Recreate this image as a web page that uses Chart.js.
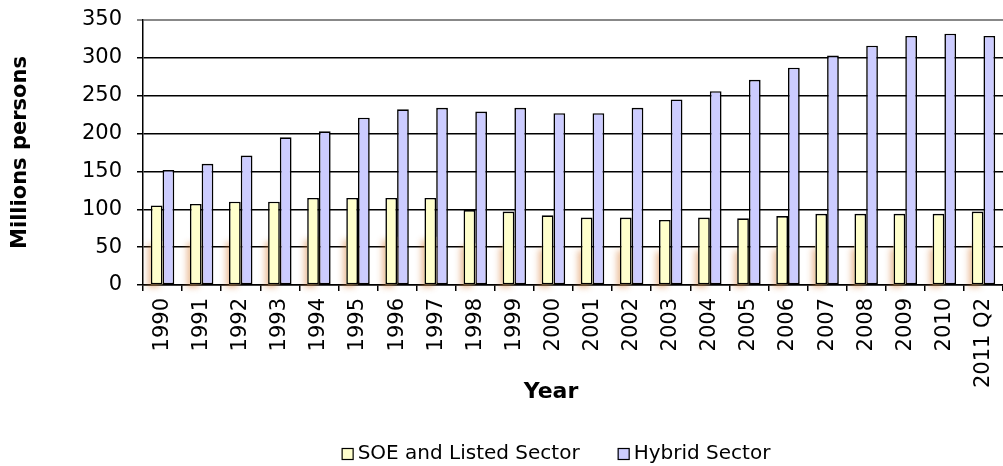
<!DOCTYPE html>
<html>
<head>
<meta charset="utf-8">
<script src="https://cdn.jsdelivr.net/npm/chart.js@4/dist/chart.umd.min.js"></script>
<style>
  html, body { margin: 0; padding: 0; background: #fff; }
  #wrap { width: 1003px; height: 466px; position: relative; }
</style>
</head>
<body>
<div id="wrap"><canvas id="my-chart"></canvas></div>
<script>
const years = ['1990','1991','1992','1993','1994','1995','1996','1997','1998','1999','2000',
  '2001','2002','2003','2004','2005','2006','2007','2008','2009','2010','2011 Q2'];
const soeListed = [105,107,110,110,115,115,115,115,99,97,92,89,89,86,89,88,91,94,94,94,94,97];
const hybrid = [152,160,171,195,203,221,232,234,229,234,227,227,234,245,256,271,287,303,316,329,332,329];
const yTicks = [0,50,100,150,200,250,300,350];

const font = 'DejaVu Sans';

// faint orange shadow at the foot of the yellow bars, like the original
const barShadow = {
  id: 'barShadow',
  beforeDatasetDraw(chart, args) {
    if (args.index !== 0) return;
    const c = chart.ctx;
    c.save();
    c.shadowColor = 'rgba(210,110,30,0.45)';
    c.shadowBlur = 6;
    c.shadowOffsetX = -3;
    c.shadowOffsetY = 3;
    c.fillStyle = '#FFFFCC';
    args.meta.data.forEach(bar => {
      const p = bar.getProps(['x', 'y', 'base', 'width'], true);
      const h = p.base - p.y;
      c.fillRect(p.x - p.width / 2, p.y + h * 0.45, p.width, h * 0.55);
    });
    c.restore();
  }
};

// legend + x title drawn by hand so spacing matches the original
const bottomText = {
  id: 'bottomText',
  afterDraw(chart) {
    const c = chart.ctx;
    const sets = chart.data.datasets;
    const mid = (chart.chartArea.left + chart.chartArea.right) / 2 - 17;
    c.save();
    c.textBaseline = 'middle';
    c.textAlign = 'center';
    c.fillStyle = '#000';
    c.font = 'bold 22px "' + font + '"';
    c.fillText('Year', mid - 5, 392);

    c.textAlign = 'left';
    c.font = '20px "' + font + '"';
    const box = 12, gapText = 4, gapItem = 38;
    const widths = sets.map(d => box + gapText + c.measureText(d.label).width);
    const total = widths.reduce((a, b) => a + b, 0) + gapItem * (sets.length - 1);
    let x = mid - total / 2;
    const y = 454;
    sets.forEach((d, i) => {
      c.fillStyle = d.backgroundColor;
      c.fillRect(x, y - box / 2, box, box);
      c.strokeStyle = '#000';
      c.lineWidth = 1.2;
      c.strokeRect(x + 0.5, y - box / 2 + 0.5, box - 1, box - 1);
      c.fillStyle = '#000';
      c.fillText(d.label, x + box + gapText, y);
      x += widths[i] + gapItem;
    });
    c.restore();
  }
};

const ctx = document.getElementById('my-chart').getContext('2d');
new Chart(ctx, {
  type: 'bar',
  data: {
    labels: years,
    datasets: [{
      label: 'SOE and Listed Sector',
      data: soeListed,
      backgroundColor: '#FFFFCC',
      borderColor: '#000',
      borderWidth: 1.6,
      borderSkipped: false,
      categoryPercentage: 0.6,
      barPercentage: 1
    }, {
      label: 'Hybrid Sector',
      data: hybrid,
      backgroundColor: '#CCCCFF',
      borderColor: '#000',
      borderWidth: 1.6,
      borderSkipped: false,
      categoryPercentage: 0.6,
      barPercentage: 1
    }]
  },
  plugins: [barShadow, bottomText],
  options: {
    responsive: true,
    maintainAspectRatio: false,
    animation: false,
    layout: { padding: { top: 20, right: 0, left: 0, bottom: 61 } },
    plugins: {
      tooltip: { enabled: false },
      legend: { display: false }
    },
    scales: {
      x: {
        afterFit: s => {
          s.height = 120;
          s.paddingLeft = 0;
          s.paddingRight = 0;
        },
        ticks: {
          color: '#000',
          font: { family: font, size: 21 },
          minRotation: 90,
          maxRotation: 90,
          autoSkip: false,
          padding: 7
        },
        grid: { drawOnChartArea: false, color: '#000', lineWidth: 1.5, tickLength: 6 },
        border: { color: '#000', width: 1.5 }
      },
      y: {
        min: 0,
        max: 350,
        afterFit: s => {
          s.width = 143;
          s.paddingTop = 0;
          s.paddingBottom = 0;
        },
        afterBuildTicks: s => { s.ticks = yTicks.map(v => ({ value: v })); },
        ticks: {
          color: '#000',
          font: { family: font, size: 21 },
          padding: 15
        },
        grid: {
          color: c => (c.tick && c.tick.value === 350 ? '#888' : '#000'),
          lineWidth: c => (c.tick && c.tick.value === 350 ? 2 : 1.5),
          tickLength: 6
        },
        border: { color: '#000', width: 1.5 },
        title: {
          display: true,
          text: 'Millions persons',
          color: '#000',
          font: { family: font, size: 21, weight: 'bold' },
          padding: { top: 8, bottom: 0 }
        }
      }
    }
  }
});
</script>
</body>
</html>
